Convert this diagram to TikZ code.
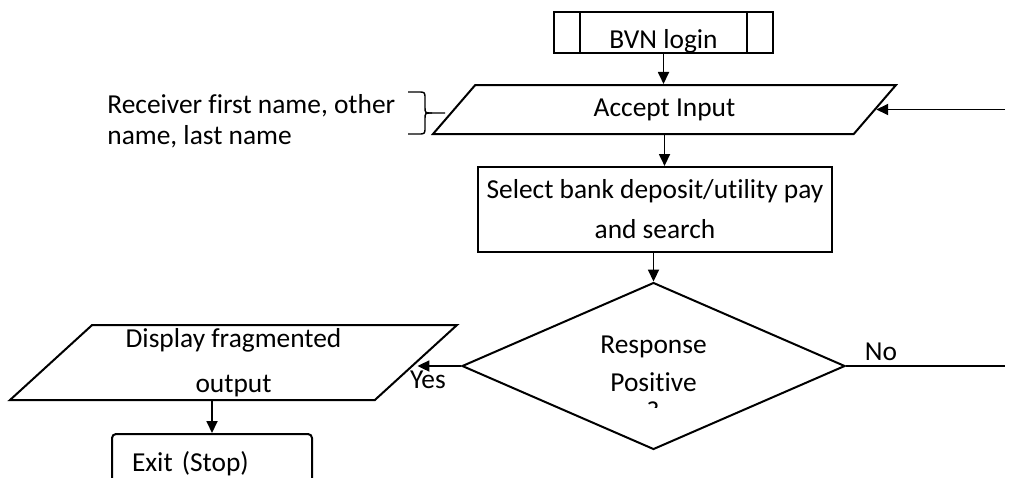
\documentclass[tikz,border=0pt]{standalone}
\usepackage{xcolor}
\usepackage{fontspec}
\setmainfont{Carlito}[Ligatures=NoCommon]
\usepackage{tikz}
\usetikzlibrary{shapes.geometric,arrows.meta}

\tikzset{
    flow/.style={draw, line width=1pt, align=center, inner sep=0pt,
        font=\fontsize{13.7}{20}\selectfont},
    inout/.style={flow, trapezium, trapezium stretches body},
    arrow/.style={-{Triangle[length=6pt,width=5.5pt]}, line width=0.9pt},
    link/.style={line width=0.9pt},
    label/.style={font=\fontsize{13.7}{16}\selectfont, inner sep=2pt}
}

\begin{document}
\begin{tikzpicture}[x=0.5pt, y=-0.5pt]
    \clip (0,0) rectangle (1010,477);
    \node[flow, minimum width=109.5pt, minimum height=20.5pt, text height=17pt, text depth=1pt] (login) at (663.5,32.5) {BVN login};
    \draw[link] ([xshift=13.5pt]login.north west) -- ([xshift=13.5pt]login.south west);
    \draw[link] ([xshift=-13.5pt]login.north east) -- ([xshift=-13.5pt]login.south east);
    \node[inout, trapezium left angle=27.5, trapezium right angle=152.5, minimum width=231.5pt, minimum height=24.5pt] (input) at (664.5,109.5) {Accept Input};
    \node[flow, minimum width=177pt, minimum height=42.5pt] (select) at (655,209.5) {Select bank deposit/utility pay\\and search};
    \node[flow, diamond, minimum width=191.5pt, minimum height=82pt, font=\fontsize{13.7}{19}\selectfont] (decide) at (653.5,366) {\raisebox{2.5pt}{Response}\\\raisebox{2.5pt}{Positive}};
    \begin{scope}
        \clip (600,396) rectangle (700,407);
        \node[label, inner sep=0pt] (qmark) at (653,411) {?};
    \end{scope}
    \node[inout, trapezium left angle=39.8, trapezium right angle=140.2, minimum width=223.5pt, minimum height=37.5pt, font=\fontsize{13.7}{22.5}\selectfont] (display) at (233.5,362.5) {Display fragmented\\output};
    \node[flow, rounded corners=2pt, anchor=north, minimum height=30pt, text width=80pt, inner xsep=10pt, align=left] (exit) at (212,433) {Exit (Stop)};
    \node[label, align=left, anchor=west, inner sep=0pt, font=\fontsize{13.7}{15.5}\selectfont] (note) at (107,121) {Receiver first name, other\\name, last name};

    \draw[line width=0.7pt] (408,92) -- (418,92) .. controls (425,92) .. (425,99) -- (425,107) .. controls (425,113) .. (432,113) -- (445,113);
    \draw[line width=0.7pt] (432,113) .. controls (425,113) .. (425,119) -- (425,127) .. controls (425,134) .. (418,134) -- (408,134);

    \coordinate (back) at (1005,115);
    \coordinate (noend) at (1005,366);
    \draw[arrow] (login.south) -- (login.south |- input.north);
    \draw[arrow] (input.south) -- (input.south |- select.north);
    \draw[arrow] (select.south -| decide.north) -- (decide.north);
    \draw[arrow] (back |- input.east) -- (input.east);
    \draw[arrow] (decide.west) -- (decide.west -| display.east) node[label, pos=0.76, below] (yes) {Yes};
    \draw[link] (decide.east) -- (noend) node[label, pos=0.22, above] (no) {No};
    \draw[arrow] (display.south -| exit.north) -- (exit.north);
\end{tikzpicture}
\end{document}
